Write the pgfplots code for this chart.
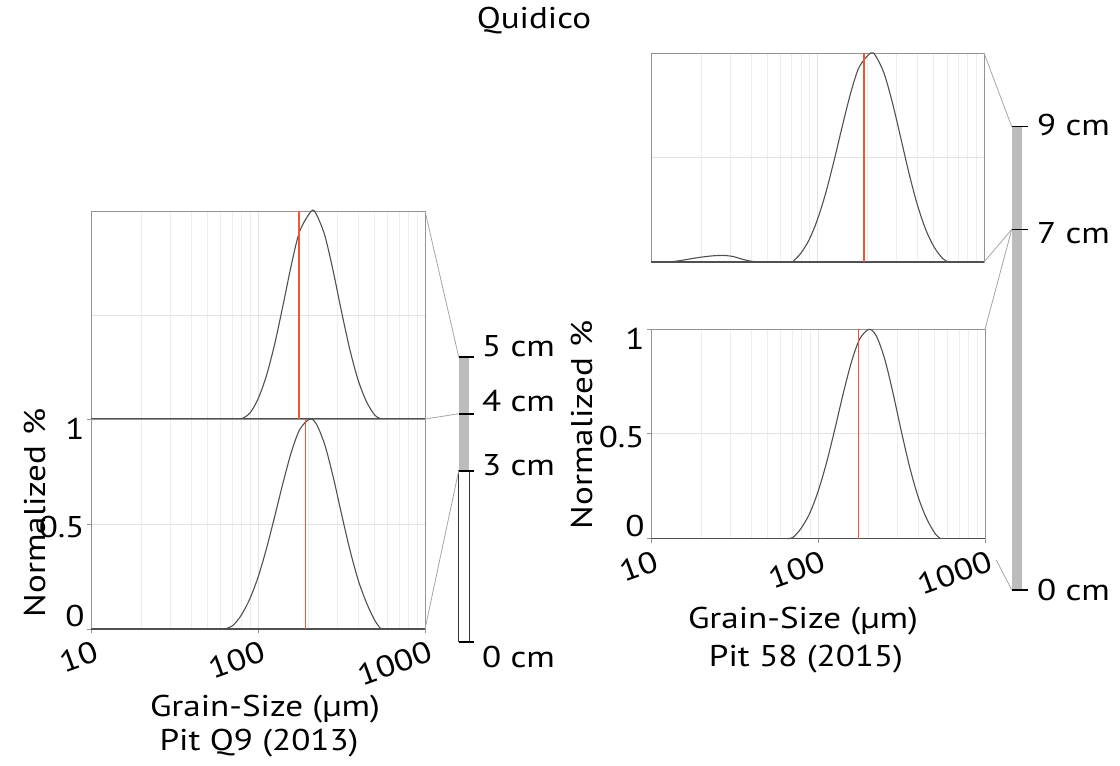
\documentclass[border=0pt]{standalone}
\usepackage{pgfplots}
\pgfplotsset{compat=1.18}
\usetikzlibrary{calc}
\usepackage{fontspec}
\setmainfont[FakeStretch=1.17]{PT Sans}
\definecolor{redline}{RGB}{240,85,55}
\definecolor{curvegray}{RGB}{80,80,80}
\definecolor{bargray}{RGB}{188,188,190}
\newcommand{\fs}{\fontsize{15pt}{18pt}\selectfont}
\begin{document}
\begin{tikzpicture}[font=\fs]
\path[use as bounding box] (0pt,0pt) rectangle (560pt,-383pt);

% ---------- Pit Q9 upper panel
\begin{axis}[name=LU, at={(45.5pt,-209.5pt)}, anchor=south west, scale only axis, width=167pt, height=104pt,
    xmode=log, xmin=10, xmax=1000, ymin=0, ymax=1,
    axis line style={draw=gray!85, line width=0.5pt},
    xtick={10,100,1000},
    minor xtick={20,30,40,50,60,70,80,90,200,300,400,500,600,700,800,900},
    ytick={0,0.5,1},
    grid=both,
    major grid style={draw=gray!22, line width=0.5pt},
    minor grid style={draw=gray!13, line width=0.5pt},
    major tick length=0pt, minor tick length=0pt,
    clip=false,
    xticklabels={}, yticklabels={}]
\addplot[draw=curvegray, line width=0.55pt, mark=none] coordinates {(10,0) (1000,0)};
\addplot[draw=curvegray, line width=0.55pt, smooth, tension=0.5, mark=none] coordinates {(79.43,0) (89.13,0.027) (100,0.096) (112.2,0.207) (125.9,0.361) (141.3,0.548) (158.5,0.742) (177.8,0.903) (208.9,1) (223.9,0.983) (251.2,0.882) (281.8,0.712) (316.2,0.517) (354.8,0.334) (398.1,0.186) (446.7,0.083) (501.2,0.018) (550,0)};
\addplot[color=redline, line width=0.7pt, mark=none] coordinates {(176,0) (176,1)};
\end{axis}

% ---------- Pit Q9 lower panel
\begin{axis}[name=LL, at={(45.5pt,-314.5pt)}, anchor=south west, scale only axis, width=167pt, height=105pt,
    xmode=log, xmin=10, xmax=1000, ymin=0, ymax=1,
    axis line style={draw=gray!85, line width=0.5pt},
    xtick={10,100,1000},
    minor xtick={20,30,40,50,60,70,80,90,200,300,400,500,600,700,800,900},
    ytick={0,0.5,1},
    grid=both,
    major grid style={draw=gray!22, line width=0.5pt},
    minor grid style={draw=gray!13, line width=0.5pt},
    tick pos=left, tick align=outside,
    major tick length=2pt, minor tick length=0pt,
    every tick/.style={draw=gray!85, line width=0.5pt},
    clip=false,
    xticklabels={10,100,1000},
    yticklabels={\raisebox{1.2pt}[0pt][0pt]{0},\raisebox{-6.8pt}[0pt][0pt]{0.5},\raisebox{-10pt}[0pt][0pt]{1}},
    xticklabel style={rotate=20, anchor=north east, inner sep=0pt, xshift=0pt, yshift=-3.5pt},
    yticklabel style={anchor=east, inner sep=0pt, xshift=-1pt}]
\addplot[draw=curvegray, line width=0.55pt, mark=none] coordinates {(10,0) (1000,0)};
\addplot[draw=curvegray, line width=0.55pt, smooth, tension=0.5, mark=none] coordinates {(63.1,0) (70.79,0.017) (79.43,0.066) (89.13,0.142) (100,0.246) (112.2,0.381) (125.9,0.536) (141.3,0.697) (158.5,0.843) (177.8,0.950) (204.2,1) (223.9,0.975) (251.2,0.877) (281.8,0.725) (316.2,0.548) (354.8,0.378) (398.1,0.233) (446.7,0.124) (501.2,0.040) (545,0)};
\addplot[color=redline, line width=0.7pt, mark=none] coordinates {(192.5,0) (192.5,1)};
\draw[redline, line width=0.7pt] (axis cs:192.5,0) -- (axis cs:192.5,1);
\end{axis}

% ---------- Pit 58 upper panel
\begin{axis}[name=RU, at={(325.5pt,-131pt)}, anchor=south west, scale only axis, width=166.5pt, height=104.5pt,
    xmode=log, xmin=10, xmax=1000, ymin=0, ymax=1,
    axis line style={draw=gray!85, line width=0.5pt},
    xtick={10,100,1000},
    minor xtick={20,30,40,50,60,70,80,90,200,300,400,500,600,700,800,900},
    ytick={0,0.5,1},
    grid=both,
    major grid style={draw=gray!22, line width=0.5pt},
    minor grid style={draw=gray!13, line width=0.5pt},
    major tick length=0pt, minor tick length=0pt,
    clip=false,
    xticklabels={}, yticklabels={}]
\addplot[draw=curvegray, line width=0.55pt, mark=none] coordinates {(10,0) (1000,0)};
\addplot[draw=curvegray, line width=0.55pt, smooth, tension=0.5, mark=none] coordinates {(12.59,0) (14.13,0.004) (15.85,0.010) (17.78,0.017) (19.95,0.023) (22.39,0.028) (25.12,0.031) (28.18,0.031) (31.62,0.025) (35.48,0.013) (39.81,0.004) (44.67,0)};
\addplot[draw=curvegray, line width=0.55pt, smooth, tension=0.5, mark=none] coordinates {(70.79,0) (79.43,0.042) (89.13,0.107) (100,0.204) (112.2,0.332) (125.9,0.487) (141.3,0.654) (158.5,0.811) (177.8,0.932) (208.4,1) (223.9,0.985) (251.2,0.902) (281.8,0.762) (316.2,0.594) (354.8,0.423) (398.1,0.273) (446.7,0.155) (501.2,0.072) (562.3,0.018) (610,0)};
\addplot[color=redline, line width=0.7pt, mark=none] coordinates {(190,0) (190,1)};
\end{axis}

% ---------- Pit 58 lower panel
\begin{axis}[name=RL, at={(325.5pt,-269.25pt)}, anchor=south west, scale only axis, width=167pt, height=104.6pt,
    xmode=log, xmin=10, xmax=1000, ymin=0, ymax=1,
    axis line style={draw=gray!85, line width=0.5pt},
    xtick={10,100,1000},
    minor xtick={20,30,40,50,60,70,80,90,200,300,400,500,600,700,800,900},
    ytick={0,0.5,1},
    grid=both,
    major grid style={draw=gray!22, line width=0.5pt},
    minor grid style={draw=gray!13, line width=0.5pt},
    tick pos=left, tick align=outside,
    major tick length=2pt, minor tick length=0pt,
    every tick/.style={draw=gray!85, line width=0.5pt},
    clip=false,
    xticklabels={10,100,1000},
    yticklabels={\raisebox{1.2pt}[0pt][0pt]{0},\raisebox{-6.8pt}[0pt][0pt]{0.5},\raisebox{-10pt}[0pt][0pt]{1}},
    xticklabel style={rotate=20, anchor=north east, inner sep=0pt, xshift=0pt, yshift=-3.5pt},
    yticklabel style={anchor=east, inner sep=0pt, xshift=-1pt}]
\addplot[draw=curvegray, line width=0.55pt, mark=none] coordinates {(10,0) (1000,0)};
\addplot[draw=curvegray, line width=0.55pt, smooth, tension=0.5, mark=none] coordinates {(66,0) (70.79,0.005) (79.43,0.050) (89.13,0.120) (100,0.224) (112.2,0.359) (125.9,0.520) (141.3,0.690) (158.5,0.843) (177.8,0.954) (202.3,1) (223.9,0.967) (251.2,0.856) (281.8,0.692) (316.2,0.509) (354.8,0.338) (398.1,0.198) (446.7,0.096) (501.2,0.025) (540,0)};
\addplot[color=redline, line width=0.7pt, mark=none] coordinates {(174.6,0) (174.6,1)};
\end{axis}

% ---------- depth column Pit Q9
\begin{axis}[at={(229.35pt,-320.875pt)}, anchor=south west, scale only axis, width=5.3pt, height=142.5pt,
  xmin=0, xmax=1, ymin=0, ymax=5,
  axis line style={draw=none}, xtick=\empty,
  major tick length=0pt, yticklabel pos=right, clip=false,
  ytick={0,3,4,5},
  yticklabels={\raisebox{-13.1pt}[0pt][0pt]{0 cm},\raisebox{-2.6pt}[0pt][0pt]{3 cm},\raisebox{1pt}[0pt][0pt]{4 cm},\raisebox{0pt}[0pt][0pt]{5 cm}},
  yticklabel style={anchor=west, inner sep=0pt, xshift=6.2pt}]
\addplot[fill=bargray, draw=none, mark=none] coordinates {(0,3) (1,3) (1,5) (0,5)} -- cycle;
\addplot[fill=white, draw=black!80, line width=0.7pt, mark=none] coordinates {(0,0) (1,0) (1,3) (0,3)} -- cycle;
\addplot[draw=black, line width=0.8pt, mark=none] coordinates {(0,5) (1.45,5)};
\addplot[draw=black, line width=0.8pt, mark=none] coordinates {(0,4) (1.45,4)};
\addplot[draw=black, line width=0.8pt, mark=none] coordinates {(0,3) (1.45,3)};
\addplot[draw=black, line width=0.8pt, mark=none] coordinates {(0,0) (1.45,0)};
\coordinate (L5) at (axis cs:0,5);
\coordinate (L4) at (axis cs:0,4);
\coordinate (L3) at (axis cs:0,3);
\end{axis}

% ---------- depth column Pit 58
\begin{axis}[at={(505.85pt,-294.85pt)}, anchor=south west, scale only axis, width=5pt, height=231.55pt,
  xmin=0, xmax=1, ymin=0, ymax=9,
  axis line style={draw=none}, xtick=\empty,
  major tick length=0pt, yticklabel pos=right, clip=false,
  ytick={0,7,9},
  yticklabels={\raisebox{-5.15pt}[0pt][0pt]{0 cm},\raisebox{-6.75pt}[0pt][0pt]{7 cm},\raisebox{-4.2pt}[0pt][0pt]{9 cm}},
  yticklabel style={anchor=west, inner sep=0pt, xshift=7.5pt}]
\addplot[fill=bargray, draw=none, mark=none] coordinates {(0,0) (1,0) (1,9) (0,9)} -- cycle;
\addplot[draw=black, line width=0.8pt, mark=none] coordinates {(0,9) (1.6,9)};
\addplot[draw=black, line width=0.8pt, mark=none] coordinates {(0,7) (1.6,7)};
\addplot[draw=black, line width=0.8pt, mark=none] coordinates {(0,0) (1.6,0)};
\coordinate (R9) at (axis cs:0,9);
\coordinate (R7) at (axis cs:0,7);
\coordinate (R0) at (axis cs:0,0);
\end{axis}

% ---------- connecting lines
\begin{scope}[draw=gray!70, line width=0.4pt]
\draw (LU.north east) -- (L5);
\draw (LU.south east) -- (L4);
\draw (LL.south east) -- (L3);
\draw (RU.north east) -- (R9);
\draw (RU.south east) -- (R7);
\draw (RL.north east) -- (R7);
\draw ($(RL.south east)!0.42!(R0)$) -- (R0);
\end{scope}

% ---------- texts
\begin{scope}[x=0.5pt, y=-0.5pt, every node/.style={font=\fs, inner sep=0pt}]
\node[anchor=base] at (534,28.3) {Quidico};
\node[rotate=90, anchor=base] at (46,513) {Normalized \%};
\node[rotate=90, anchor=base] at (592,425) {Normalized \%};
\node[anchor=base] at (265,716.7) {Grain-Size (µm)};
\node[anchor=base] at (259,750.7) {Pit Q9 (2013)};
\node[anchor=base] at (803,628.3) {Grain-Size (µm)};
\node[anchor=base] at (806,666.7) {Pit 58 (2015)};
\end{scope}
\end{tikzpicture}
\end{document}
